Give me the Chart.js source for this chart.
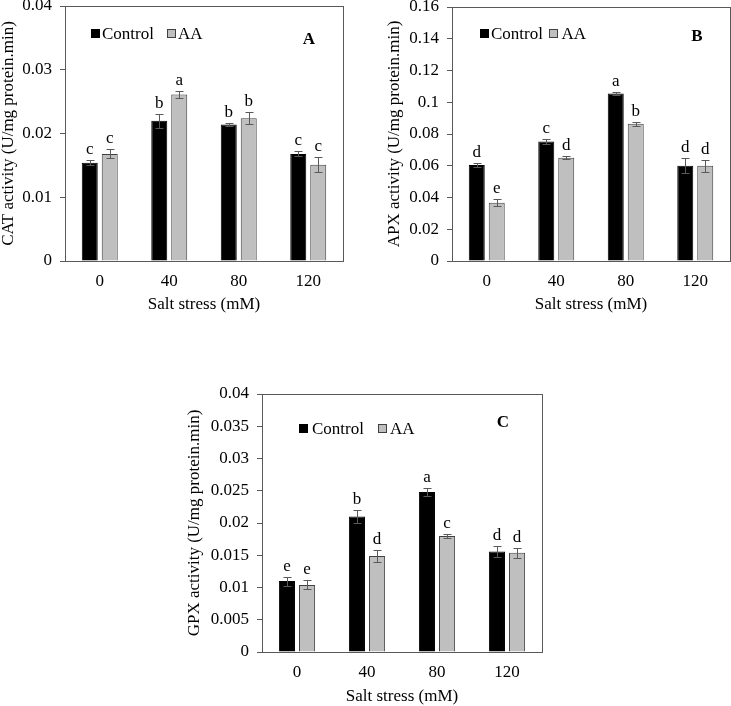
<!DOCTYPE html>
<html><head><meta charset="utf-8">
<script src="https://cdn.jsdelivr.net/npm/chart.js@4.4.0/dist/chart.umd.min.js"></script>
<style>
html,body{margin:0;padding:0;background:#fff;}
#wrap{position:relative;width:731px;height:706px;overflow:hidden;background:#fff;}
canvas{position:absolute;}
</style></head><body><div id="wrap"></div>
<script>
// ---------- data ----------
const categories = ['0', '40', '80', '120'];
const seriesNames = ['Control', 'AA'];
const xTitle = 'Salt stress (mM)';

// Panel A: CAT
const catControl    = [0.0154, 0.0220, 0.0214, 0.0168];
const catControlErr = [0.0004, 0.0011, 0.0003, 0.0004];
const catAA         = [0.0168, 0.0261, 0.0224, 0.0151];
const catAAErr      = [0.0007, 0.0006, 0.0009, 0.0012];
const catLettersControl = ['c', 'b', 'b', 'c'];
const catLettersAA      = ['c', 'a', 'b', 'c'];
const catTicks      = [0, 0.01, 0.02, 0.03, 0.04];
const catTickLabels = ['0', '0.01', '0.02', '0.03', '0.04'];

// Panel B: APX
const apxControl    = [0.0605, 0.0753, 0.1055, 0.0600];
const apxControlErr = [0.0013, 0.0013, 0.0007, 0.0046];
const apxAA         = [0.0367, 0.0650, 0.0865, 0.0600];
const apxAAErr      = [0.0022, 0.0010, 0.0013, 0.0037];
const apxLettersControl = ['d', 'c', 'a', 'd'];
const apxLettersAA      = ['e', 'd', 'b', 'd'];
const apxTicks      = [0, 0.02, 0.04, 0.06, 0.08, 0.10, 0.12, 0.14, 0.16];
const apxTickLabels = ['0', '0.02', '0.04', '0.06', '0.08', '0.1', '0.12', '0.14', '0.16'];

// Panel C: GPX
const gpxControl    = [0.0110, 0.0210, 0.0248, 0.0156];
const gpxControlErr = [0.0007, 0.0010, 0.0006, 0.0009];
const gpxAA         = [0.0104, 0.0149, 0.0180, 0.0154];
const gpxAAErr      = [0.0007, 0.0009, 0.0003, 0.0008];
const gpxLettersControl = ['e', 'b', 'a', 'd'];
const gpxLettersAA      = ['e', 'd', 'c', 'd'];
const gpxTicks      = [0, 0.005, 0.01, 0.015, 0.02, 0.025, 0.03, 0.035, 0.04];
const gpxTickLabels = ['0', '0.005', '0.01', '0.015', '0.02', '0.025', '0.03', '0.035', '0.04'];

// ---------- styling ----------
const FONT = "'Liberation Serif', 'Times New Roman', serif";
const FS = 17, LH = FS * 1.2;
const CONTROL_COLOR = '#000000';
const AA_COLOR = '#BFBFBF';
const AA_BORDER = '#404040';
const FRAME = '#595959';
const ERR = '#595959';
const ML = 90, MT = 30, MR = 30, MB = 80;

const decoPlugin = {
  id: 'deco',
  afterDatasetsDraw(chart, args, o) {
    const ctx = chart.ctx, ca = chart.chartArea, ys = chart.scales.y;
    ctx.save();
    // frame
    ctx.strokeStyle = FRAME; ctx.lineWidth = 1;
    ctx.strokeRect(Math.round(ca.left) + 0.5, Math.round(ca.top) + 0.5,
                   Math.round(ca.right - ca.left), Math.round(ca.bottom - ca.top));
    // error bars + letters
    chart.data.datasets.forEach((ds, i) => {
      const meta = chart.getDatasetMeta(i);
      meta.data.forEach((el, j) => {
        const v = ds.data[j], e = o.errs[i][j];
        const x = Math.round(el.x) + 0.5;
        const yt = Math.round(ys.getPixelForValue(v + e)) + 0.5;
        const yb = Math.round(ys.getPixelForValue(v - e)) + 0.5;
        ctx.strokeStyle = ERR; ctx.lineWidth = 1;
        ctx.beginPath();
        ctx.moveTo(x, yt); ctx.lineTo(x, yb);
        ctx.moveTo(x - 4, yt); ctx.lineTo(x + 4, yt);
        ctx.moveTo(x - 4, yb); ctx.lineTo(x + 4, yb);
        ctx.stroke();
        ctx.fillStyle = '#000';
        ctx.font = FS + 'px ' + FONT;
        ctx.textAlign = 'center'; ctx.textBaseline = 'alphabetic';
        ctx.fillText(o.letters[i][j], el.x, yt - 7);
      });
    });
    // legend
    const L = o.legend;
    const ly = ca.top + L.dy;
    const bs = 9;
    [[L.box1, L.text1, CONTROL_COLOR, CONTROL_COLOR], [L.box2, L.text2, AA_COLOR, AA_BORDER]].forEach((it, k) => {
      const bx = Math.round(ca.left + it[0]);
      const by = Math.round(ly - bs / 2);
      ctx.fillStyle = it[2];
      ctx.fillRect(bx, by, bs, bs);
      ctx.strokeStyle = it[3]; ctx.lineWidth = 1;
      ctx.strokeRect(bx + 0.5, by + 0.5, bs - 1, bs - 1);
      ctx.fillStyle = '#000';
      ctx.font = FS + 'px ' + FONT;
      ctx.textAlign = 'left'; ctx.textBaseline = 'middle';
      ctx.fillText(seriesNames[k], ca.left + it[1], ly + 1);
    });
    // panel label
    ctx.font = 'bold ' + FS + 'px ' + FONT;
    ctx.textAlign = 'center'; ctx.textBaseline = 'middle';
    ctx.fillStyle = '#000';
    ctx.fillText(o.label.text, ca.left + o.label.dx, ca.top + o.label.dy);
    ctx.restore();
  }
};

function panel(p) {
  const a = p.area;
  const cw = (a.r - a.l) + ML + MR, ch = (a.b - a.t) + MT + MB;
  const left = a.l - ML, top = a.t - MT;
  const cv = document.createElement('canvas');
  cv.width = cw; cv.height = ch;
  cv.style.left = left + 'px'; cv.style.top = top + 'px';
  cv.style.width = cw + 'px'; cv.style.height = ch + 'px';
  document.getElementById('wrap').appendChild(cv);
  const yTitlePad = (p.yTitleX - left) - LH / 2;
  const xTitlePad = ch - (p.xTitleY - top) - LH / 2;
  new Chart(cv, {
    type: 'bar',
    data: {
      labels: categories,
      datasets: [
        { label: seriesNames[0], data: p.control, backgroundColor: CONTROL_COLOR, borderColor: CONTROL_COLOR, borderWidth: 1,
          categoryPercentage: 0.575, barPercentage: 0.8 },
        { label: seriesNames[1], data: p.aa, backgroundColor: AA_COLOR, borderColor: AA_BORDER, borderWidth: 1,
          categoryPercentage: 0.575, barPercentage: 0.8 }
      ]
    },
    options: {
      responsive: false, animation: false, devicePixelRatio: 1,
      layout: { padding: { left: 0, top: MT, right: MR, bottom: 0 } },
      plugins: {
        legend: { display: false }, tooltip: { enabled: false },
        deco: { errs: [p.controlErr, p.aaErr], letters: [p.lettersControl, p.lettersAA], legend: p.legend, label: p.label }
      },
      scales: {
        x: {
          offset: true,
          grid: { display: false, drawTicks: false },
          border: { display: false },
          ticks: { color: '#000', font: { family: FONT, size: FS }, padding: 10.3, maxRotation: 0 },
          title: { display: true, text: xTitle, color: '#000', font: { family: FONT, size: FS, lineHeight: 1.2 },
                   padding: { top: 0, bottom: xTitlePad } },
          afterFit(s) { s.height = MB; }
        },
        y: {
          min: p.ticks[0], max: p.ticks[p.ticks.length - 1],
          afterBuildTicks(s) { s.ticks = p.ticks.map(v => ({ value: v })); },
          grid: { display: true, drawOnChartArea: false, drawTicks: true, tickLength: 5, color: FRAME },
          border: { display: false },
          ticks: { color: '#000', font: { family: FONT, size: FS }, padding: 8,
                   callback(v, i) { return p.tickLabels[i]; } },
          title: { display: true, text: p.yTitle, color: '#000', font: { family: FONT, size: FS, lineHeight: 1.2 },
                   padding: { top: yTitlePad, bottom: 0 } },
          afterFit(s) { s.width = ML; }
        }
      }
    },
    plugins: [decoPlugin]
  });
}

panel({
  area: { l: 65, t: 6, r: 343, b: 261 },
  control: catControl, controlErr: catControlErr, aa: catAA, aaErr: catAAErr,
  lettersControl: catLettersControl, lettersAA: catLettersAA,
  ticks: catTicks, tickLabels: catTickLabels,
  yTitle: 'CAT activity (U/mg protein.min)', yTitleX: 8.5, xTitleY: 305,
  legend: { box1: 26, text1: 37, box2: 102, text2: 113, dy: 27.3 },
  label: { text: 'A', dx: 244, dy: 34 }
});
panel({
  area: { l: 452, t: 7, r: 730, b: 261 },
  control: apxControl, controlErr: apxControlErr, aa: apxAA, aaErr: apxAAErr,
  lettersControl: apxLettersControl, lettersAA: apxLettersAA,
  ticks: apxTicks, tickLabels: apxTickLabels,
  yTitle: 'APX activity (U/mg protein.min)', yTitleX: 395, xTitleY: 305,
  legend: { box1: 27.5, text1: 39, box2: 97, text2: 109.5, dy: 26.3 },
  label: { text: 'B', dx: 245, dy: 30 }
});
panel({
  area: { l: 262, t: 394, r: 542, b: 652 },
  control: gpxControl, controlErr: gpxControlErr, aa: gpxAA, aaErr: gpxAAErr,
  lettersControl: gpxLettersControl, lettersAA: gpxLettersAA,
  ticks: gpxTicks, tickLabels: gpxTickLabels,
  yTitle: 'GPX activity (U/mg protein.min)', yTitleX: 195, xTitleY: 696.7,
  legend: { box1: 37, text1: 50, box2: 116, text2: 128, dy: 34.3 },
  label: { text: 'C', dx: 241, dy: 29 }
});
</script>
</body></html>
